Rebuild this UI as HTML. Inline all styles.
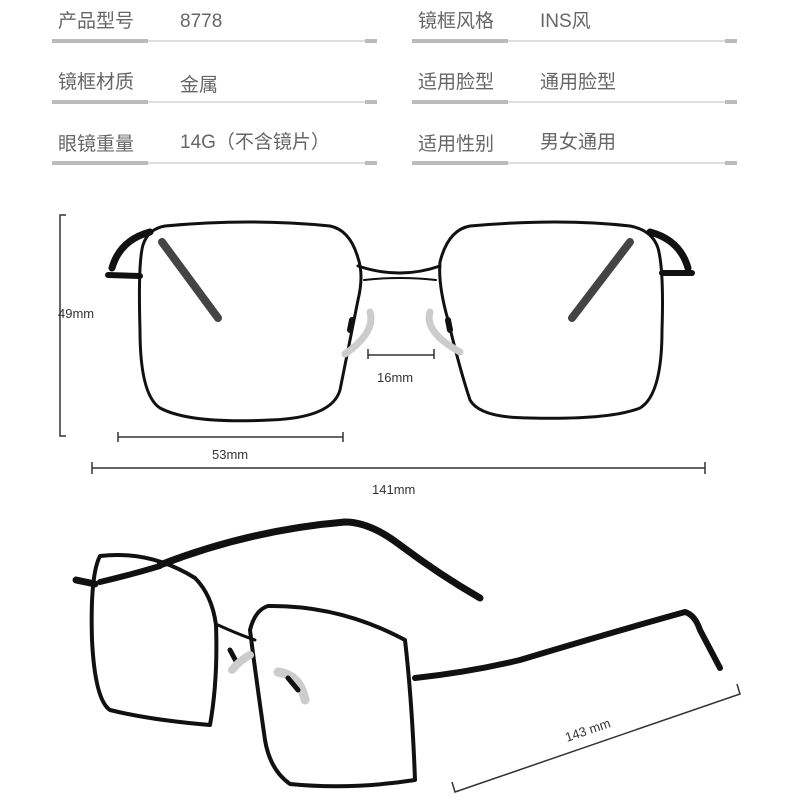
<!DOCTYPE html>
<html><head><meta charset="utf-8"><style>
html,body{margin:0;padding:0;background:#fff;}
body{width:800px;height:800px;position:relative;overflow:hidden;font-family:"Liberation Sans","Noto Sans CJK SC",sans-serif;}
.t{position:absolute;font-size:19px;color:#666;line-height:1;}
.ln{position:absolute;height:2px;background:#ddd;}
.tk{position:absolute;height:4px;background:#bbb;}
</style></head><body>
<div class="t" style="left:58px;top:12px">产品型号</div><div class="t" style="left:180px;top:12px">8778</div>
<div class="t" style="left:418px;top:12px">镜框风格</div><div class="t" style="left:540px;top:12px">INS风</div>
<div class="t" style="left:58px;top:73px">镜框材质</div><div class="t" style="left:180px;top:76px">金属</div>
<div class="t" style="left:418px;top:73px">适用脸型</div><div class="t" style="left:540px;top:73px">通用脸型</div>
<div class="t" style="left:58px;top:135px">眼镜重量</div><div class="t" style="left:180px;top:133px">14G（不含镜片）</div>
<div class="t" style="left:418px;top:135px">适用性别</div><div class="t" style="left:540px;top:133px">男女通用</div>

<div class="ln" style="left:52px;top:40px;width:325px"></div><div class="tk" style="left:52px;top:39px;width:96px"></div><div class="tk" style="left:365px;top:39px;width:12px"></div>
<div class="ln" style="left:412px;top:40px;width:325px"></div><div class="tk" style="left:412px;top:39px;width:96px"></div><div class="tk" style="left:725px;top:39px;width:12px"></div>
<div class="ln" style="left:52px;top:101px;width:325px"></div><div class="tk" style="left:52px;top:100px;width:96px"></div><div class="tk" style="left:365px;top:100px;width:12px"></div>
<div class="ln" style="left:412px;top:101px;width:325px"></div><div class="tk" style="left:412px;top:100px;width:96px"></div><div class="tk" style="left:725px;top:100px;width:12px"></div>
<div class="ln" style="left:52px;top:162px;width:325px"></div><div class="tk" style="left:52px;top:161px;width:96px"></div><div class="tk" style="left:365px;top:161px;width:12px"></div>
<div class="ln" style="left:412px;top:162px;width:325px"></div><div class="tk" style="left:412px;top:161px;width:96px"></div><div class="tk" style="left:725px;top:161px;width:12px"></div>

<svg width="800" height="800" style="position:absolute;left:0;top:0" xmlns="http://www.w3.org/2000/svg">
<g fill="none" stroke="#111" stroke-linecap="round">
<path d="M112 268 Q120 240 150 232" stroke-width="7"/>
<path d="M162 242 L218 318" stroke-width="8" stroke="#444"/>
<path d="M108 275 L140 276" stroke-width="6"/>
<path d="M688 268 Q680 240 650 232" stroke-width="7"/>
<path d="M630 242 L572 318" stroke-width="8" stroke="#444"/>
<path d="M662 273 L692 273" stroke-width="6"/>
<path d="M165 226 Q250 218 330 226 Q350 230 358 258 Q364 275 358 300 Q348 350 340 390 Q332 418 270 420 Q190 424 160 408 Q140 395 140 330 Q138 262 143 245 Q148 229 165 226Z" stroke-width="3"/>
<path d="M470 226 Q560 218 630 226 Q652 230 658 248 Q664 270 662 330 Q662 395 640 408 Q610 420 530 418 Q480 418 470 400 Q460 370 448 320 Q438 285 440 262 Q448 230 470 226Z" stroke-width="3"/>
<path d="M358 266 Q400 280 440 266" stroke-width="3"/>
<path d="M364 280 Q400 276 436 280" stroke-width="2"/>
<path d="M352 320 L350 330" stroke-width="6"/><path d="M448 320 L450 330" stroke-width="6"/>
<path d="M370 312 Q376 332 345 354" stroke="#ccc" stroke-width="7"/>
<path d="M430 312 Q424 332 460 352" stroke="#ccc" stroke-width="7"/>
</g>
<g stroke="#333" stroke-width="1.5" fill="none">
<path d="M66 215 H60 V436 H66"/>
<path d="M118 432 V442 M118 437 H343 M343 432 V442"/>
<path d="M92 462 V474 M92 468 H705 M705 462 V474"/>
<path d="M368 349 V359 M368 355 H434 M434 349 V359"/>
<path d="M452 782 L455 792 L740 694 L737 684"/>
</g>
<g font-family="Liberation Sans, sans-serif" font-size="13" fill="#333">
<text x="58" y="318">49mm</text>
<text x="212" y="459">53mm</text>
<text x="377" y="382">16mm</text>
<text x="372" y="494">141mm</text>
<text x="0" y="0" transform="translate(567,742) rotate(-19)">143 mm</text>
</g>
<g fill="none" stroke="#111" stroke-linecap="round" stroke-linejoin="round">
<path d="M160 565 Q250 530 345 522 Q370 522 400 545 Q440 575 480 598" stroke-width="7"/>
<path d="M100 582 Q130 575 160 566" stroke-width="6"/>
<path d="M76 580 L95 584" stroke-width="7"/>
<path d="M100 556 Q150 550 195 578 Q212 595 216 625 Q218 680 210 725 Q150 720 110 710 Q95 700 92 640 Q90 575 100 556Z" stroke-width="4"/>
<path d="M218 625 Q240 635 255 640" stroke-width="3"/>
<path d="M268 606 Q340 605 405 640 Q412 700 415 780 Q350 790 290 784 Q270 770 265 740 Q255 670 250 630 Q255 610 268 606Z" stroke-width="4"/>
<path d="M415 678 Q470 672 520 660 Q620 630 685 612 Q695 615 700 630 L720 668" stroke-width="6"/>
<path d="M230 650 L238 665" stroke-width="5"/><path d="M232 670 Q240 660 250 655" stroke="#ccc" stroke-width="8"/>
<path d="M278 672 Q300 675 305 700" stroke="#ccc" stroke-width="9"/><path d="M288 678 L298 690" stroke-width="5"/>
</g>
</svg>
</body></html>
